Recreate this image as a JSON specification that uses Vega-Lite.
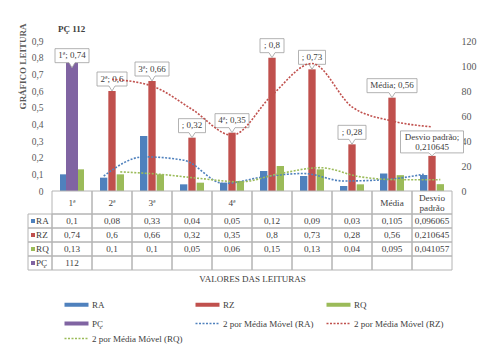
{
  "$schema": "https://vega.github.io/schema/vega-lite/v6.json",
  "width": 400,
  "height": 150,
  "autosize": {"type": "none"},
  "padding": {"left": 52, "top": 41, "right": 34, "bottom": 162},
  "background": "white",
  "title": {"text": "PÇ 112", "anchor": "start", "frame": "group", "offset": -11, "dx": 6, "fontSize": 9, "fontWeight": "bold", "font": "Liberation Serif", "color": "#404040"},
  "datasets": {
    "bars": [
      {"i": 1, "s": "RA", "v": 0.1}, {"i": 1, "s": "RZ", "v": 0.74, "t": "1ª; 0,74"}, {"i": 1, "s": "RQ", "v": 0.13}, {"i": 1, "s": "PÇ", "v": 112},
      {"i": 2, "s": "RA", "v": 0.08}, {"i": 2, "s": "RZ", "v": 0.6, "t": "2ª; 0,6"}, {"i": 2, "s": "RQ", "v": 0.1},
      {"i": 3, "s": "RA", "v": 0.33}, {"i": 3, "s": "RZ", "v": 0.66, "t": "3ª; 0,66"}, {"i": 3, "s": "RQ", "v": 0.1},
      {"i": 4, "s": "RA", "v": 0.04}, {"i": 4, "s": "RZ", "v": 0.32, "t": "; 0,32"}, {"i": 4, "s": "RQ", "v": 0.05},
      {"i": 5, "s": "RA", "v": 0.05}, {"i": 5, "s": "RZ", "v": 0.35, "t": "4ª; 0,35"}, {"i": 5, "s": "RQ", "v": 0.06},
      {"i": 6, "s": "RA", "v": 0.12}, {"i": 6, "s": "RZ", "v": 0.8, "t": "; 0,8"}, {"i": 6, "s": "RQ", "v": 0.15},
      {"i": 7, "s": "RA", "v": 0.09}, {"i": 7, "s": "RZ", "v": 0.73, "t": "; 0,73"}, {"i": 7, "s": "RQ", "v": 0.13},
      {"i": 8, "s": "RA", "v": 0.03}, {"i": 8, "s": "RZ", "v": 0.28, "t": "; 0,28"}, {"i": 8, "s": "RQ", "v": 0.04},
      {"i": 9, "s": "RA", "v": 0.105}, {"i": 9, "s": "RZ", "v": 0.56, "t": "Média; 0,56"}, {"i": 9, "s": "RQ", "v": 0.095},
      {"i": 10, "s": "RA", "v": 0.096065}, {"i": 10, "s": "RZ", "v": 0.210645, "t1": "Desvio padrão;", "t2": "0,210645"}, {"i": 10, "s": "RQ", "v": 0.041057}
    ],
    "ma": [
      {"i": 2, "b": "RA", "s": "2 por Média Móvel (RA)", "v": 0.09},
      {"i": 3, "b": "RA", "s": "2 por Média Móvel (RA)", "v": 0.205},
      {"i": 4, "b": "RA", "s": "2 por Média Móvel (RA)", "v": 0.185},
      {"i": 5, "b": "RA", "s": "2 por Média Móvel (RA)", "v": 0.045},
      {"i": 6, "b": "RA", "s": "2 por Média Móvel (RA)", "v": 0.085},
      {"i": 7, "b": "RA", "s": "2 por Média Móvel (RA)", "v": 0.105},
      {"i": 8, "b": "RA", "s": "2 por Média Móvel (RA)", "v": 0.06},
      {"i": 9, "b": "RA", "s": "2 por Média Móvel (RA)", "v": 0.0675},
      {"i": 10, "b": "RA", "s": "2 por Média Móvel (RA)", "v": 0.1005},
      {"i": 2, "b": "RZ", "s": "2 por Média Móvel (RZ)", "v": 0.67},
      {"i": 3, "b": "RZ", "s": "2 por Média Móvel (RZ)", "v": 0.63},
      {"i": 4, "b": "RZ", "s": "2 por Média Móvel (RZ)", "v": 0.49},
      {"i": 5, "b": "RZ", "s": "2 por Média Móvel (RZ)", "v": 0.335},
      {"i": 6, "b": "RZ", "s": "2 por Média Móvel (RZ)", "v": 0.575},
      {"i": 7, "b": "RZ", "s": "2 por Média Móvel (RZ)", "v": 0.765},
      {"i": 8, "b": "RZ", "s": "2 por Média Móvel (RZ)", "v": 0.505},
      {"i": 9, "b": "RZ", "s": "2 por Média Móvel (RZ)", "v": 0.42},
      {"i": 10, "b": "RZ", "s": "2 por Média Móvel (RZ)", "v": 0.385},
      {"i": 2, "b": "RQ", "s": "2 por Média Móvel (RQ)", "v": 0.115},
      {"i": 3, "b": "RQ", "s": "2 por Média Móvel (RQ)", "v": 0.1},
      {"i": 4, "b": "RQ", "s": "2 por Média Móvel (RQ)", "v": 0.075},
      {"i": 5, "b": "RQ", "s": "2 por Média Móvel (RQ)", "v": 0.055},
      {"i": 6, "b": "RQ", "s": "2 por Média Móvel (RQ)", "v": 0.105},
      {"i": 7, "b": "RQ", "s": "2 por Média Móvel (RQ)", "v": 0.14},
      {"i": 8, "b": "RQ", "s": "2 por Média Móvel (RQ)", "v": 0.085},
      {"i": 9, "b": "RQ", "s": "2 por Média Móvel (RQ)", "v": 0.0675},
      {"i": 10, "b": "RQ", "s": "2 por Média Móvel (RQ)", "v": 0.068}
    ],
    "cats": [
      {"i": 1, "h": "1ª"}, {"i": 2, "h": "2ª"}, {"i": 3, "h": "3ª"}, {"i": 4, "h": ""}, {"i": 5, "h": "4ª"},
      {"i": 6, "h": ""}, {"i": 7, "h": ""}, {"i": 8, "h": ""}, {"i": 9, "h": "Média"}, {"i": 10, "h1": "Desvio", "h2": "padrão"}
    ]
  },
  "layer": [
    {
      "data": {"name": "bars"},
      "transform": [{"filter": "datum.s !== 'PÇ'"}],
      "mark": {"type": "bar"},
      "encoding": {
        "x": {"field": "i", "type": "ordinal", "scale": {"domain": [1,2,3,4,5,6,7,8,9,10], "paddingInner": 0, "paddingOuter": 0}, "axis": null},
        "xOffset": {"field": "s", "type": "nominal", "scale": {"domain": ["RA", "RZ", "RQ"], "range": [8, 32], "paddingInner": 0.12, "paddingOuter": 0}},
        "y": {"field": "v", "type": "quantitative", "scale": {"domain": [0, 0.9], "nice": false},
          "axis": {"orient": "left", "values": [0, 0.1, 0.2, 0.3, 0.4, 0.5, 0.6, 0.7, 0.8, 0.9], "format": "~g", "domain": false, "ticks": false, "grid": false, "labelPadding": 9, "labelFont": "Liberation Serif", "labelFontSize": 9.5, "labelColor": "#595959",
            "title": "GRÁFICO LEITURA", "titleFont": "Liberation Serif", "titleFontSize": 9, "titleFontWeight": "bold", "titleColor": "#595959", "titleX": -25, "titleY": 25, "titleAngle": 270, "titleAlign": "center", "titleBaseline": "bottom"}},
        "color": {"field": "s", "type": "nominal", "title": null,
          "scale": {"domain": ["RA", "RZ", "RQ", "PÇ", "2 por Média Móvel (RA)", "2 por Média Móvel (RZ)", "2 por Média Móvel (RQ)"],
                    "range": ["#4f81bd", "#c0504d", "#9bbb59", "#8064a2", "#4f81bd", "#c0504d", "#9bbb59"]},
          "legend": {"orient": "none", "direction": "horizontal", "legendX": 8, "legendY": 259, "columns": 3, "symbolType": "M-6,0H6", "symbolSize": 16, "symbolOffset": 12, "labelOffset": 11, "labelFont": "Liberation Serif", "labelFontSize": 9, "labelColor": "#404040", "rowPadding": 2, "columnPadding": 4, "padding": 0}
        }
      }
    },
    {
      "data": {"name": "bars"},
      "transform": [{"filter": "datum.s === 'PÇ'"}],
      "mark": {"type": "bar", "width": {"band": 0.3}},
      "encoding": {
        "x": {"field": "i", "type": "ordinal", "scale": {"domain": [1,2,3,4,5,6,7,8,9,10], "paddingInner": 0, "paddingOuter": 0}, "axis": null},
        "y": {"field": "v", "type": "quantitative", "scale": {"domain": [0, 120], "nice": false},
          "axis": {"orient": "right", "values": [0, 20, 40, 60, 80, 100, 120], "domain": false, "ticks": false, "grid": false, "labelPadding": 9, "labelFont": "Liberation Serif", "labelFontSize": 10, "labelColor": "#595959", "title": null}},
        "color": {"field": "s", "type": "nominal", "title": null, "scale": {"domain": ["RA", "RZ", "RQ", "PÇ", "2 por Média Móvel (RA)", "2 por Média Móvel (RZ)", "2 por Média Móvel (RQ)"]}}
      }
    },
    {
      "data": {"name": "bars"},
      "transform": [{"filter": "datum.s === 'RZ'"}],
      "encoding": {
        "x": {"field": "i", "type": "ordinal", "scale": {"domain": [1,2,3,4,5,6,7,8,9,10], "paddingInner": 0, "paddingOuter": 0}, "axis": null},
        "y": {"field": "v", "type": "quantitative", "scale": {"domain": [0, 0.9], "nice": false}, "axis": null}
      },
      "layer": [
        {
          "mark": {"type": "point", "filled": true, "fill": "white", "stroke": "#a0a0a0", "strokeWidth": 0.8, "size": 4, "opacity": 1},
          "encoding": {
            "shape": {"field": "i", "type": "nominal", "legend": null, "scale": {"domain": [1,2,3,4,5,6,7,8,9,10], "range": [
              "M-17,-19H17V-5H3L0,0L-3,-5H-17Z",
              "M-15,-19H15V-5H3L0,0L-3,-5H-15Z",
              "M-17,-19H17V-5H3L0,0L-3,-5H-17Z",
              "M-13.5,-19H13.5V-5H3L0,0L-3,-5H-13.5Z",
              "M-17,-19H17V-5H3L0,0L-3,-5H-17Z",
              "M-12,-19H12V-5H3L0,0L-3,-5H-12Z",
              "M-13.5,-19H13.5V-5H3L0,0L-3,-5H-13.5Z",
              "M-14,-19H14V-5H3L0,0L-3,-5H-14Z",
              "M-25,-19H25V-5H3L0,0L-3,-5H-25Z",
              "M-31.5,-25H31.5V-3H3L0,0L-3,-3H-31.5Z"
            ]}}
          }
        },
        {
          "transform": [{"filter": "isValid(datum.t)"}],
          "mark": {"type": "text", "baseline": "middle", "dy": -12.5, "fontSize": 9, "font": "Liberation Serif", "color": "#404040"},
          "encoding": {"text": {"field": "t"}}
        },
        {
          "transform": [{"filter": "isValid(datum.t1)"}],
          "mark": {"type": "text", "baseline": "middle", "dy": -19, "fontSize": 9, "font": "Liberation Serif", "color": "#404040"},
          "encoding": {"text": {"field": "t1"}}
        },
        {
          "transform": [{"filter": "isValid(datum.t2)"}],
          "mark": {"type": "text", "baseline": "middle", "dy": -9, "fontSize": 9, "font": "Liberation Serif", "color": "#404040"},
          "encoding": {"text": {"field": "t2"}}
        }
      ]
    },
    {
      "data": {"name": "ma"},
      "transform": [{"filter": "datum.b === 'RA'"}],
      "mark": {"type": "line", "interpolate": "monotone", "xOffset": -8.3},
      "encoding": {
        "x": {"field": "i", "type": "quantitative", "scale": {"domain": [0.5, 10.5], "nice": false, "zero": false}, "axis": null},
        "y": {"field": "v", "type": "quantitative", "scale": {"domain": [0, 0.9], "nice": false}, "axis": null},
        "color": {"field": "s", "type": "nominal", "title": null, "scale": {"domain": ["RA", "RZ", "RQ", "PÇ", "2 por Média Móvel (RA)", "2 por Média Móvel (RZ)", "2 por Média Móvel (RQ)"]}},
        "strokeDash": {"field": "s", "type": "nominal", "title": null, "scale": {"domain": ["RA", "RZ", "RQ", "PÇ", "2 por Média Móvel (RA)", "2 por Média Móvel (RZ)", "2 por Média Móvel (RQ)"], "range": [[1, 0], [1, 0], [1, 0], [1, 0], [2, 1.5], [2, 1.5], [2, 1.5]]}},
        "strokeWidth": {"field": "s", "type": "nominal", "title": null, "scale": {"type": "ordinal", "domain": ["RA", "RZ", "RQ", "PÇ", "2 por Média Móvel (RA)", "2 por Média Móvel (RZ)", "2 por Média Móvel (RQ)"], "range": [4, 4, 4, 4, 1.6, 1.6, 1.6]}}
      }
    },
    {
      "data": {"name": "ma"},
      "transform": [{"filter": "datum.b === 'RZ'"}],
      "mark": {"type": "line", "interpolate": "monotone"},
      "encoding": {
        "x": {"field": "i", "type": "quantitative", "scale": {"domain": [0.5, 10.5], "nice": false, "zero": false}, "axis": null},
        "y": {"field": "v", "type": "quantitative", "scale": {"domain": [0, 0.9], "nice": false}, "axis": null},
        "color": {"field": "s", "type": "nominal", "title": null, "scale": {"domain": ["RA", "RZ", "RQ", "PÇ", "2 por Média Móvel (RA)", "2 por Média Móvel (RZ)", "2 por Média Móvel (RQ)"]}},
        "strokeDash": {"field": "s", "type": "nominal", "title": null, "scale": {"domain": ["RA", "RZ", "RQ", "PÇ", "2 por Média Móvel (RA)", "2 por Média Móvel (RZ)", "2 por Média Móvel (RQ)"], "range": [[1, 0], [1, 0], [1, 0], [1, 0], [2, 1.5], [2, 1.5], [2, 1.5]]}},
        "strokeWidth": {"field": "s", "type": "nominal", "title": null, "scale": {"type": "ordinal", "domain": ["RA", "RZ", "RQ", "PÇ", "2 por Média Móvel (RA)", "2 por Média Móvel (RZ)", "2 por Média Móvel (RQ)"], "range": [4, 4, 4, 4, 1.6, 1.6, 1.6]}}
      }
    },
    {
      "data": {"name": "ma"},
      "transform": [{"filter": "datum.b === 'RQ'"}],
      "mark": {"type": "line", "interpolate": "monotone", "xOffset": 8.3},
      "encoding": {
        "x": {"field": "i", "type": "quantitative", "scale": {"domain": [0.5, 10.5], "nice": false, "zero": false}, "axis": null},
        "y": {"field": "v", "type": "quantitative", "scale": {"domain": [0, 0.9], "nice": false}, "axis": null},
        "color": {"field": "s", "type": "nominal", "title": null, "scale": {"domain": ["RA", "RZ", "RQ", "PÇ", "2 por Média Móvel (RA)", "2 por Média Móvel (RZ)", "2 por Média Móvel (RQ)"]}},
        "strokeDash": {"field": "s", "type": "nominal", "title": null, "scale": {"domain": ["RA", "RZ", "RQ", "PÇ", "2 por Média Móvel (RA)", "2 por Média Móvel (RZ)", "2 por Média Móvel (RQ)"], "range": [[1, 0], [1, 0], [1, 0], [1, 0], [2, 1.5], [2, 1.5], [2, 1.5]]}},
        "strokeWidth": {"field": "s", "type": "nominal", "title": null, "scale": {"type": "ordinal", "domain": ["RA", "RZ", "RQ", "PÇ", "2 por Média Móvel (RA)", "2 por Média Móvel (RZ)", "2 por Média Móvel (RQ)"], "range": [4, 4, 4, 4, 1.6, 1.6, 1.6]}}
      }
    },
    {
      "data": {"name": "cats"},
      "encoding": {
        "x": {"field": "i", "type": "ordinal", "scale": {"domain": [1,2,3,4,5,6,7,8,9,10], "paddingInner": 0, "paddingOuter": 0}, "axis": null},
        "y": {"datum": "h", "type": "nominal", "scale": {"domain": ["h"], "range": [150, 173], "paddingInner": 0, "paddingOuter": 0}, "axis": null}
      },
      "layer": [
        {"mark": {"type": "rect", "fill": "transparent", "stroke": "#b4b4b4", "strokeWidth": 1}},
        {"transform": [{"filter": "isValid(datum.h)"}], "mark": {"type": "text", "fontSize": 9.2, "font": "Liberation Serif", "color": "#404040", "baseline": "middle"}, "encoding": {"text": {"field": "h"}}},
        {"transform": [{"filter": "isValid(datum.h1)"}], "mark": {"type": "text", "fontSize": 9.2, "font": "Liberation Serif", "color": "#404040", "baseline": "middle", "dy": -5}, "encoding": {"text": {"field": "h1"}}},
        {"transform": [{"filter": "isValid(datum.h2)"}], "mark": {"type": "text", "fontSize": 9.2, "font": "Liberation Serif", "color": "#404040", "baseline": "middle", "dy": 5}, "encoding": {"text": {"field": "h2"}}}
      ]
    },
    {
      "data": {"name": "bars"},
      "transform": [{"impute": "v", "key": "i", "keyvals": [1,2,3,4,5,6,7,8,9,10], "groupby": ["s"], "value": -1}],
      "encoding": {
        "x": {"field": "i", "type": "ordinal", "scale": {"domain": [1,2,3,4,5,6,7,8,9,10], "paddingInner": 0, "paddingOuter": 0},
          "axis": {"orient": "bottom", "offset": 79, "labels": false, "ticks": false, "domain": false, "grid": false, "title": "VALORES DAS LEITURAS", "titlePadding": 4, "titleFont": "Liberation Serif", "titleFontSize": 9, "titleFontWeight": "normal", "titleColor": "#404040"}},
        "y": {"field": "s", "type": "nominal", "scale": {"domain": ["RA", "RZ", "RQ", "PÇ"], "range": [173, 229], "paddingInner": 0, "paddingOuter": 0}, "axis": null}
      },
      "layer": [
        {"mark": {"type": "rect", "fill": "transparent", "stroke": "#b4b4b4", "strokeWidth": 1}},
        {"mark": {"type": "text", "fontSize": 9.2, "font": "Liberation Serif", "color": "#404040", "baseline": "middle"},
          "encoding": {"text": {"condition": {"test": "datum.v < 0", "value": ""}, "field": "v", "type": "quantitative", "format": "~r"}}}
      ]
    },
    {
      "data": {"name": "bars"},
      "transform": [{"aggregate": [{"op": "count", "as": "n"}], "groupby": ["s"]}],
      "encoding": {
        "x": {"datum": "lbl", "type": "nominal", "scale": {"domain": ["lbl"], "range": [-24, 0], "paddingInner": 0, "paddingOuter": 0}, "axis": null},
        "y": {"field": "s", "type": "nominal", "scale": {"domain": ["RA", "RZ", "RQ", "PÇ"], "range": [173, 229], "paddingInner": 0, "paddingOuter": 0}, "axis": null}
      },
      "layer": [
        {"mark": {"type": "rect", "fill": "transparent", "stroke": "#b4b4b4", "strokeWidth": 1}},
        {"mark": {"type": "square", "size": 16, "opacity": 1, "xOffset": -7}, "encoding": {"color": {"field": "s", "type": "nominal", "title": null, "scale": {"domain": ["RA", "RZ", "RQ", "PÇ", "2 por Média Móvel (RA)", "2 por Média Móvel (RZ)", "2 por Média Móvel (RQ)"]}}}},
        {"mark": {"type": "text", "align": "left", "xOffset": -4, "fontSize": 9.2, "font": "Liberation Serif", "color": "#404040", "baseline": "middle"}, "encoding": {"text": {"field": "s"}}}
      ]
    }
  ],
  "resolve": {"scale": {"x": "independent", "y": "independent", "xOffset": "independent"}},
  "config": {
    "view": {"stroke": null},
    "locale": {"number": {"decimal": ",", "thousands": ".", "grouping": [3], "currency": ["", ""]}},
    "font": "Liberation Serif"
  }
}
